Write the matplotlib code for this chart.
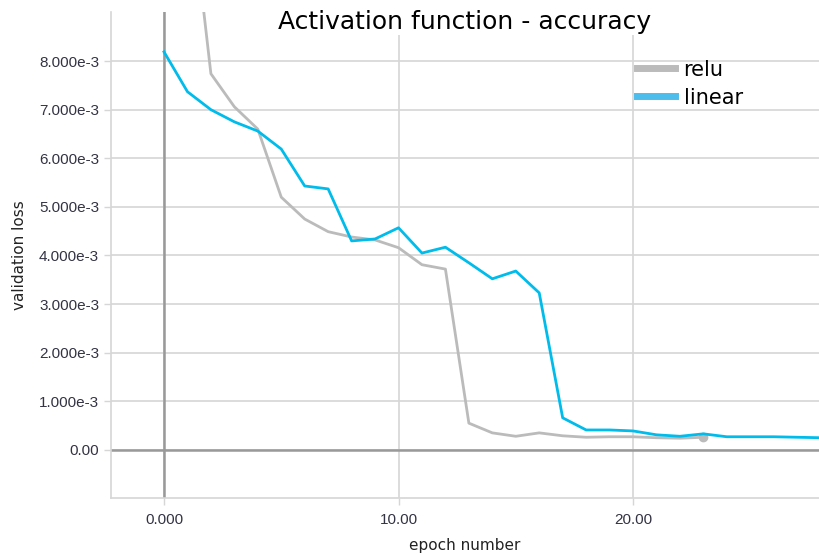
import numpy as np
import matplotlib.pyplot as plt

# validation loss per epoch for each activation
epochs_relu = list(range(0, 24))
loss_relu = [0.0200, 0.01194, 0.00774, 0.00706, 0.00660, 0.00520, 0.00475, 0.00449,
             0.00438, 0.00432, 0.00416, 0.00381, 0.00372, 0.00055, 0.00035, 0.00028,
             0.00035, 0.00029, 0.00026, 0.00027, 0.00027, 0.00025, 0.00024, 0.00026]

epochs_linear = list(range(0, 29))
loss_linear = [0.00819, 0.00737, 0.00700, 0.00675, 0.00656, 0.00619, 0.00543, 0.00537,
               0.00430, 0.00434, 0.00457, 0.00405, 0.00417, 0.00385, 0.00352, 0.00368,
               0.00323, 0.00066, 0.00041, 0.00041, 0.00039, 0.00031, 0.00028, 0.00033,
               0.00027, 0.00027, 0.00027, 0.00026, 0.00025]

xticks = [0, 10, 20]
xtick_labels = ['0.000', '10.00', '20.00']
yticks = [0, 0.001, 0.002, 0.003, 0.004, 0.005, 0.006, 0.007, 0.008]
ytick_labels = ['0.00', '1.000e-3', '2.000e-3', '3.000e-3', '4.000e-3',
                '5.000e-3', '6.000e-3', '7.000e-3', '8.000e-3']

fig = plt.figure(figsize=(8.19, 5.55), dpi=100)
ax = fig.add_axes([111 / 819, 57 / 555, 708 / 819, 486 / 555])

ax.set_xlim(-2.26, 27.93)
ax.set_ylim(-0.00099, 0.00901)

ax.set_xticks(xticks)
ax.set_xticklabels(xtick_labels)
ax.set_yticks(yticks)
ax.set_yticklabels(ytick_labels)

ax.grid(True, color='#d6d6d6', linewidth=1.2)
ax.set_axisbelow(True)
ax.axhline(0, color='#999999', linewidth=1.8, zorder=1)
ax.axvline(0, color='#999999', linewidth=1.8, zorder=1)

for side in ['top', 'right']:
    ax.spines[side].set_visible(False)
for side in ['left', 'bottom']:
    ax.spines[side].set_color('#d6d6d6')
    ax.spines[side].set_linewidth(1.2)

ax.tick_params(colors='#d6d6d6', labelcolor='#333344', labelsize=11, length=5, width=1)
ax.tick_params(axis='x', pad=6)
for lbl in ax.get_xticklabels() + ax.get_yticklabels():
    lbl.set_fontfamily('Liberation Sans')

ax.plot(epochs_relu, loss_relu, color='#bbbbbb', linewidth=2, label='relu', zorder=3)
ax.plot(epochs_relu[-1], loss_relu[-1], 'o', color='#bbbbbb', markersize=6, zorder=3)
ax.plot(epochs_linear, loss_linear, color='#00bceb', linewidth=2, label='linear', zorder=4)

leg = ax.legend(loc='upper left', bbox_to_anchor=(0.743, 0.902), frameon=False,
                fontsize=15, handlelength=1.83, handletextpad=0.4, labelspacing=0.38,
                borderpad=0, borderaxespad=0)
for h, c in zip(leg.legend_handles, ['#bbbbbb', '#4dbdec']):
    h.set_linewidth(5)
    h.set_color(c)

# title sits on a white box over the top of the grid
ax.text(0.5, 0.98, 'Activation function - accuracy', transform=ax.transAxes,
        ha='center', va='center', fontsize=18, zorder=6,
        bbox=dict(facecolor='white', edgecolor='none', pad=1))

ax.set_xlabel('epoch number', fontsize=11, color='#222222', labelpad=8)
ax.set_ylabel('validation loss', fontsize=11, color='#222222', labelpad=9)

fig.savefig('out.png', dpi=100)
